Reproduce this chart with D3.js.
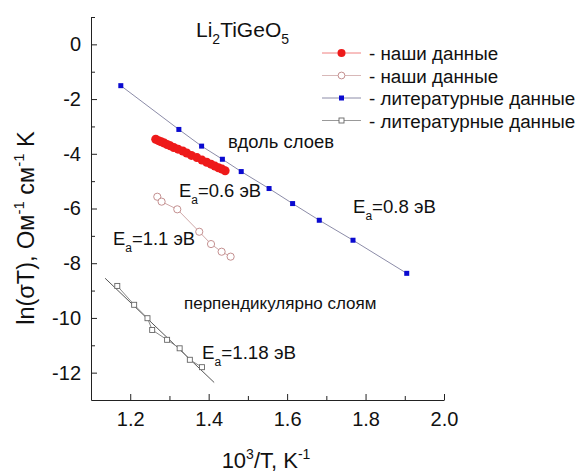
<!DOCTYPE html>
<html>
<head>
  <meta charset="utf-8">
  <script src="https://d3js.org/d3.v7.min.js"></script>
  <style>
    body { margin: 0; background: #fff; }
    svg text { font-family: "Liberation Sans", Arial, sans-serif; fill: #111; }
    .axis path, .axis line { stroke: #222; stroke-width: 1px; }
  </style>
</head>
<body>
  <svg id="chart" width="581" height="473"></svg>
  <script>
    // our data, along the layers (filled red circles)
    const ourAlong = [
      [1.265, -3.47], [1.272, -3.52], [1.279, -3.56], [1.287, -3.61], [1.294, -3.66],
      [1.302, -3.71], [1.311, -3.77], [1.322, -3.83], [1.334, -3.90], [1.344, -3.97],
      [1.356, -4.06], [1.370, -4.14], [1.383, -4.23], [1.395, -4.31],
      [1.406, -4.38], [1.416, -4.45], [1.425, -4.51], [1.434, -4.56], [1.442, -4.62]
    ];
    // our data, open circles
    const ourOpen = [
      [1.269, -5.57], [1.280, -5.75], [1.320, -6.03], [1.376, -6.85],
      [1.406, -7.30], [1.433, -7.58], [1.456, -7.76]
    ];
    // literature data, along the layers (blue squares)
    const litAlong = [
      [1.176, -1.51], [1.324, -3.11], [1.382, -3.72], [1.435, -4.20], [1.483, -4.65],
      [1.554, -5.27], [1.614, -5.82], [1.682, -6.43], [1.768, -7.16], [1.905, -8.37]
    ];
    // literature data, perpendicular to the layers (open squares)
    const litPerp = [
      [1.167, -8.83], [1.210, -9.52], [1.244, -10.01], [1.256, -10.44],
      [1.294, -10.80], [1.326, -11.11], [1.352, -11.53], [1.383, -11.80]
    ];
    const litPerpFit = [[1.136, -8.55], [1.414, -12.36]];

    const xTicks = [1.2, 1.4, 1.6, 1.8, 2.0];
    const xMinor = [1.3, 1.5, 1.7, 1.9];
    const yTicks = [0, -2, -4, -6, -8, -10, -12];
    const yMinor = [1, -1, -3, -5, -7, -9, -11];
    const legendLabels = ["- наши данные", "- наши данные", "- литературные данные", "- литературные данные"];

    const svg = d3.select('#chart');
    const x = d3.scaleLinear().domain([1.1, 2.0]).range([91, 444]);
    const y = d3.scaleLinear().domain([-13, 1]).range([400, 17]);
    const line = d3.line().x(d => x(d[0])).y(d => y(d[1]));
    const hyphen = f => d => f(d).replace('\u2212', '-');

    // axes (ticks inward, Origin style)
    const gx = svg.append('g').attr('class', 'axis').attr('transform', 'translate(0,400)');
    gx.call(d3.axisBottom(x).tickValues(xTicks).tickFormat(d3.format('.1f'))
      .tickSizeInner(-6).tickSizeOuter(0).tickPadding(12));
    gx.selectAll('text').style('font-size', '20px');
    svg.append('g').attr('class', 'axis').attr('transform', 'translate(0,400)')
      .call(d3.axisBottom(x).tickValues(xMinor).tickSize(-4).tickFormat(''))
      .select('.domain').remove();

    const gy = svg.append('g').attr('class', 'axis').attr('transform', 'translate(91,0)');
    gy.call(d3.axisLeft(y).tickValues(yTicks).tickFormat(hyphen(d3.format('d')))
      .tickSizeInner(-6).tickSizeOuter(0).tickPadding(10));
    gy.selectAll('text').style('font-size', '20px');
    svg.append('g').attr('class', 'axis').attr('transform', 'translate(91,0)')
      .call(d3.axisLeft(y).tickValues(yMinor).tickSize(-4).tickFormat(''))
      .select('.domain').remove();

    // lines
    svg.append('path').datum(litPerpFit).attr('d', line)
      .attr('fill', 'none').attr('stroke', '#555').attr('stroke-width', 1);
    svg.append('path').datum(litPerp).attr('d', line)
      .attr('fill', 'none').attr('stroke', '#888').attr('stroke-width', 1);
    svg.append('path').datum(litAlong).attr('d', line)
      .attr('fill', 'none').attr('stroke', '#8c8ca8').attr('stroke-width', 1);
    svg.append('path').datum(ourOpen).attr('d', line)
      .attr('fill', 'none').attr('stroke', '#cfa8a8').attr('stroke-width', 1);
    svg.append('path').datum(ourAlong).attr('d', line)
      .attr('fill', 'none').attr('stroke', '#f06060').attr('stroke-width', 1);

    // markers
    svg.append('g').selectAll('rect').data(litPerp).join('rect')
      .attr('x', d => x(d[0]) - 2.5).attr('y', d => y(d[1]) - 2.5)
      .attr('width', 5).attr('height', 5)
      .attr('fill', '#fff').attr('stroke', '#666').attr('stroke-width', 0.9);
    svg.append('g').selectAll('rect').data(litAlong).join('rect')
      .attr('x', d => x(d[0]) - 2.5).attr('y', d => y(d[1]) - 2.5)
      .attr('width', 5).attr('height', 5).attr('fill', '#0a0ad0');
    svg.append('g').selectAll('circle').data(ourOpen).join('circle')
      .attr('cx', d => x(d[0])).attr('cy', d => y(d[1])).attr('r', 3.6)
      .attr('fill', '#fff').attr('stroke', '#c49090').attr('stroke-width', 1);
    svg.append('g').selectAll('circle').data(ourAlong).join('circle')
      .attr('cx', d => x(d[0])).attr('cy', d => y(d[1])).attr('r', 4.5)
      .attr('fill', '#ee1a1a');

    // legend
    const legendRows = [
      { line: '#f08080', kind: 'dot' },
      { line: '#d8b8b8', kind: 'ring' },
      { line: '#8c8ca8', kind: 'sq' },
      { line: '#999', kind: 'osq' }
    ];
    const leg = svg.append('g').selectAll('g').data(legendLabels).join('g')
      .attr('transform', (d, i) => `translate(0,${53 + i * 22.5})`);
    leg.append('line').attr('x1', 322).attr('x2', 361)
      .attr('stroke', (d, i) => legendRows[i].line).attr('stroke-width', 1);
    leg.each(function (d, i) {
      const g = d3.select(this), k = legendRows[i].kind;
      if (k === 'dot') g.append('circle').attr('cx', 341.5).attr('r', 4).attr('fill', '#ee1a1a');
      if (k === 'ring') g.append('circle').attr('cx', 341.5).attr('r', 3.4)
        .attr('fill', '#fff').attr('stroke', '#c49090');
      if (k === 'sq') g.append('rect').attr('x', 339).attr('y', -2.5).attr('width', 5).attr('height', 5).attr('fill', '#0a0ad0');
      if (k === 'osq') g.append('rect').attr('x', 339).attr('y', -2.5).attr('width', 5).attr('height', 5)
        .attr('fill', '#fff').attr('stroke', '#666').attr('stroke-width', 0.9);
    });
    leg.append('text').attr('x', 369).attr('y', 7).style('font-size', '18.8px').text(d => d);

    // title
    const title = svg.append('text').attr('x', 196).attr('y', 37).style('font-size', '21px');
    title.append('tspan').text('Li');
    title.append('tspan').attr('dy', 7).style('font-size', '14px').text('2');
    title.append('tspan').attr('dy', -7).text('TiGeO');
    title.append('tspan').attr('dy', 7).style('font-size', '14px').text('5');

    // annotations
    function ea(px, py, value, fs) {
      const t = svg.append('text').attr('x', px).attr('y', py).style('font-size', fs + 'px');
      t.append('tspan').text('E');
      t.append('tspan').attr('dy', 7).style('font-size', '12px').text('a');
      t.append('tspan').attr('dy', -7).text('=' + value + ' эВ');
    }
    ea(179, 197, '0.6', 18.4);
    ea(113, 245, '1.1', 18.4);
    ea(353, 213, '0.8', 18.6);
    ea(202, 359, '1.18', 18.8);
    svg.append('text').attr('x', 228).attr('y', 148).style('font-size', '18.4px').text('вдоль слоев');
    svg.append('text').attr('x', 184).attr('y', 309).style('font-size', '17px').text('перпендикулярно слоям');

    // axis titles
    const xl = svg.append('text').attr('x', 266).attr('y', 468)
      .attr('text-anchor', 'middle').style('font-size', '22px');
    xl.append('tspan').text('10');
    xl.append('tspan').attr('dy', -9).style('font-size', '14px').text('3');
    xl.append('tspan').attr('dy', 9).text('/T, K');
    xl.append('tspan').attr('dy', -9).style('font-size', '14px').text('-1');

    const yl = svg.append('text').attr('transform', 'translate(34,228) rotate(-90)')
      .attr('text-anchor', 'middle').style('font-size', '23.5px');
    yl.append('tspan').text('ln(σT), Ом');
    yl.append('tspan').attr('dy', -10).style('font-size', '15px').text('-1');
    yl.append('tspan').attr('dy', 10).text(' см');
    yl.append('tspan').attr('dy', -10).style('font-size', '15px').text('-1');
    yl.append('tspan').attr('dy', 10).text(' K');
  </script>
</body>
</html>
